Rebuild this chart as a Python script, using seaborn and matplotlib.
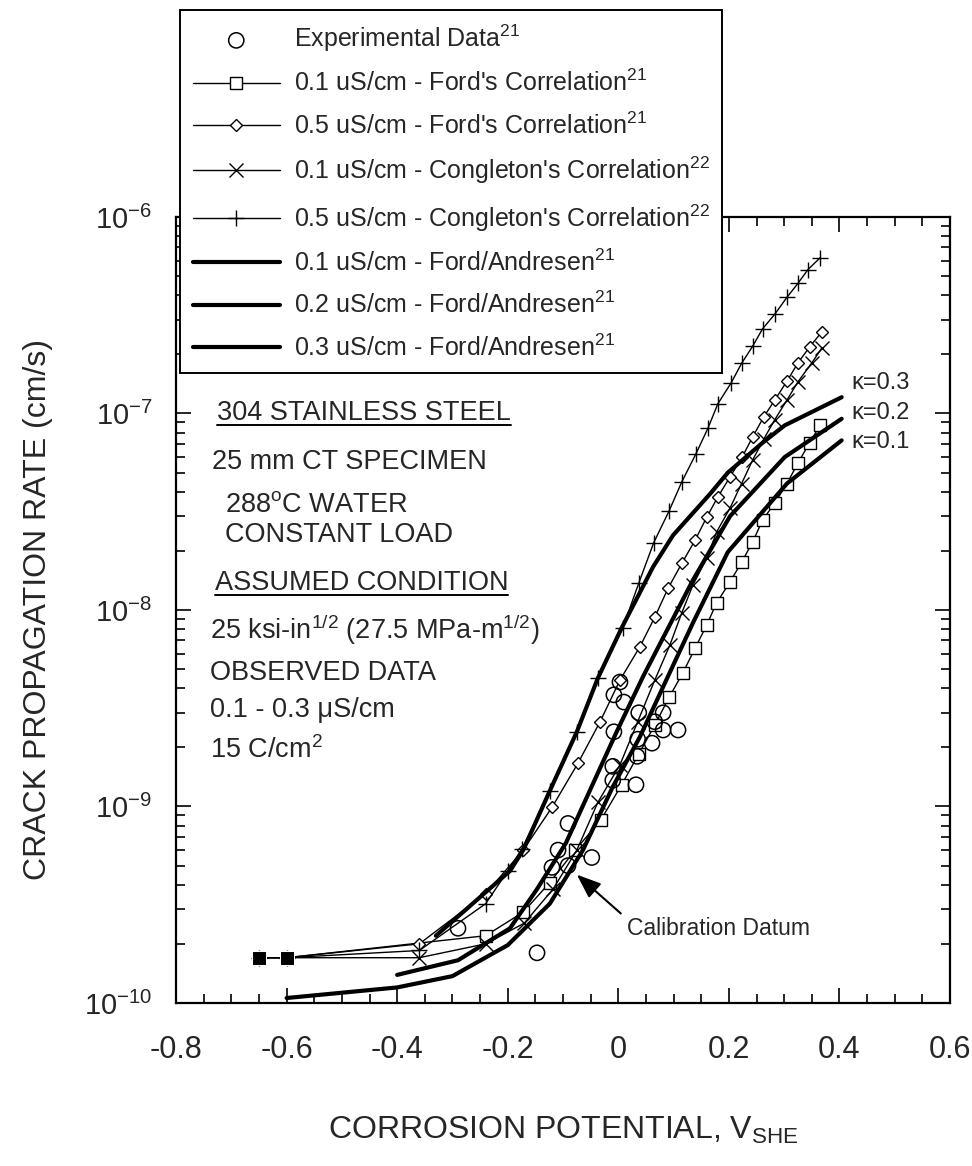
import numpy as np
import matplotlib
matplotlib.use("Agg")
import matplotlib.pyplot as plt
import seaborn as sns
from matplotlib import font_manager
from matplotlib.lines import Line2D
from matplotlib.ticker import MultipleLocator, LogLocator, NullFormatter, FuncFormatter
from matplotlib.transforms import IdentityTransform

# experimental data (corrosion potential V_SHE, crack growth rate cm/s)
exp_x = [-0.29, -0.147, -0.12, -0.109, -0.091, -0.091, -0.048, -0.010, -0.010, -0.008,
         -0.008, 0.003, 0.010, 0.032, 0.034, 0.035, 0.037, 0.061, 0.066, 0.081, 0.081, 0.108]
exp_y = [2.4e-10, 1.8e-10, 4.9e-10, 6.0e-10, 8.2e-10, 5.0e-10, 5.5e-10, 1.36e-9, 1.6e-9, 2.4e-9,
         3.7e-9, 4.3e-9, 3.4e-9, 1.29e-9, 1.8e-9, 2.2e-9, 3.0e-9, 2.1e-9, 2.7e-9, 3.0e-9, 2.45e-9, 2.45e-9]

# the four correlations share the same two starting points
start_x = [-0.65, -0.60]
start_y = [1.7e-10, 1.7e-10]

ford01_x = start_x + [-0.24, -0.172, -0.124, -0.078, -0.032, 0.006, 0.037, 0.066, 0.092, 0.117,
                      0.139, 0.160, 0.178, 0.202, 0.223, 0.243, 0.261, 0.283, 0.305, 0.325, 0.346, 0.365]
ford01_y = start_y + [2.2e-10, 2.9e-10, 4.1e-10, 6.0e-10, 8.5e-10, 1.29e-9, 1.85e-9, 2.6e-9, 3.6e-9, 4.8e-9,
                      6.4e-9, 8.4e-9, 1.09e-8, 1.39e-8, 1.75e-8, 2.22e-8, 2.87e-8, 3.5e-8, 4.4e-8, 5.6e-8, 7.1e-8, 8.7e-8]

ford05_x = start_x + [-0.36, -0.24, -0.172, -0.12, -0.073, -0.033, 0.003, 0.039, 0.066, 0.090, 0.115,
                      0.139, 0.160, 0.180, 0.202, 0.224, 0.243, 0.263, 0.283, 0.305, 0.325, 0.346, 0.368]
ford05_y = start_y + [2.0e-10, 3.6e-10, 6.0e-10, 9.9e-10, 1.66e-9, 2.7e-9, 4.4e-9, 6.5e-9, 9.2e-9, 1.29e-8, 1.73e-8,
                      2.27e-8, 2.97e-8, 3.76e-8, 4.75e-8, 6.0e-8, 7.6e-8, 9.6e-8, 1.17e-7, 1.46e-7, 1.81e-7, 2.18e-7, 2.6e-7]

cong01_x = start_x + [-0.36, -0.24, -0.17, -0.118, -0.075, -0.037, 0.003, 0.035, 0.066, 0.093, 0.115,
                      0.135, 0.160, 0.178, 0.202, 0.223, 0.243, 0.263, 0.283, 0.305, 0.325, 0.350, 0.368]
cong01_y = start_y + [1.7e-10, 2.0e-10, 2.55e-10, 3.8e-10, 6.0e-10, 1.05e-9, 1.63e-9, 2.7e-9, 4.4e-9, 6.6e-9, 9.7e-9,
                      1.34e-8, 1.84e-8, 2.5e-8, 3.3e-8, 4.4e-8, 5.8e-8, 7.4e-8, 9.3e-8, 1.17e-7, 1.45e-7, 1.81e-7, 2.15e-7]

cong05_x = start_x + [-0.36, -0.24, -0.20, -0.174, -0.124, -0.075, -0.037, 0.008, 0.037, 0.064, 0.092, 0.115,
                      0.140, 0.162, 0.180, 0.204, 0.223, 0.243, 0.261, 0.283, 0.305, 0.325, 0.343, 0.365]
cong05_y = start_y + [1.85e-10, 3.2e-10, 4.7e-10, 6.1e-10, 1.2e-9, 2.4e-9, 4.5e-9, 8.1e-9, 1.37e-8, 2.2e-8, 3.2e-8, 4.5e-8,
                      6.2e-8, 8.4e-8, 1.12e-7, 1.43e-7, 1.8e-7, 2.2e-7, 2.7e-7, 3.2e-7, 3.9e-7, 4.6e-7, 5.4e-7, 6.2e-7]

# Ford/Andresen model, kappa = 0.1, 0.2, 0.3 uS/cm
fa01_x = [-0.60, -0.40, -0.30, -0.20, -0.124, -0.064, -0.010, 0.039, 0.093, 0.135, 0.198, 0.305, 0.404]
fa01_y = [1.06e-10, 1.2e-10, 1.37e-10, 1.97e-10, 3.2e-10, 6.0e-10, 1.26e-9, 2.26e-9, 4.8e-9, 8.6e-9, 1.97e-8, 4.4e-8, 7.3e-8]

fa02_x = [-0.40, -0.29, -0.196, -0.147, -0.095, -0.003, 0.045, 0.135, 0.202, 0.301, 0.404]
fa02_y = [1.39e-10, 1.65e-10, 2.4e-10, 3.8e-10, 6.5e-10, 2.4e-9, 4.6e-9, 1.42e-8, 3.0e-8, 6.0e-8, 9.4e-8]

fa03_x = [-0.33, -0.281, -0.196, -0.172, -0.124, -0.075, -0.037, 0.006, 0.063, 0.099, 0.166, 0.198, 0.261, 0.301, 0.404]
fa03_y = [2.2e-10, 2.9e-10, 4.7e-10, 6.0e-10, 1.2e-9, 2.4e-9, 4.5e-9, 8.1e-9, 1.66e-8, 2.4e-8, 3.9e-8, 5.0e-8, 7.1e-8, 8.7e-8, 1.21e-7]

kappa_labels = ["\u03ba=0.3", "\u03ba=0.2", "\u03ba=0.1"]
kappa_y = [1.43e-7, 1.0e-7, 7.2e-8]

sns.set_style("ticks")
names = {f.name for f in font_manager.fontManager.ttflist}
narrow = "Liberation Sans Narrow" if "Liberation Sans Narrow" in names else "Liberation Sans"
plt.rcParams["font.family"] = ["Liberation Sans", "DejaVu Sans"]
plt.rcParams["mathtext.fontset"] = "custom"
plt.rcParams["mathtext.rm"] = "Liberation Sans"
plt.rcParams["mathtext.it"] = "Liberation Sans:italic"
plt.rcParams["mathtext.bf"] = "Liberation Sans:bold"

fig = plt.figure(figsize=(9.72, 11.66), dpi=100)
ax = fig.add_axes([0.1811, 0.1398, 0.7963, 0.6741])
ax.set_yscale("log")

thin = dict(color="black", lw=1.0, markerfacecolor="white", markeredgecolor="black",
            markeredgewidth=1.0, estimator=None, sort=False, ax=ax)

sns.scatterplot(x=exp_x, y=exp_y, marker="o", s=120, facecolor="none", edgecolor="black",
                linewidth=1.1, ax=ax, label="Experimental Data$^{21}$", zorder=5)
sns.lineplot(x=ford01_x, y=ford01_y, marker="s", markersize=9, label="0.1 uS/cm - Ford's Correlation$^{21}$", **thin)
sns.lineplot(x=ford05_x, y=ford05_y, marker="D", markersize=6.5, label="0.5 uS/cm - Ford's Correlation$^{21}$", **thin)
sns.lineplot(x=cong01_x, y=cong01_y, marker="x", markersize=10, label="0.1 uS/cm - Congleton's Correlation$^{22}$", **thin)
sns.lineplot(x=cong05_x, y=cong05_y, marker="+", markersize=11, label="0.5 uS/cm - Congleton's Correlation$^{22}$", **thin)
for fx, fy, lab in [(fa01_x, fa01_y, "0.1"), (fa02_x, fa02_y, "0.2"), (fa03_x, fa03_y, "0.3")]:
    sns.lineplot(x=fx, y=fy, color="black", lw=3.0, estimator=None, sort=False, ax=ax,
                 label=f"{lab} uS/cm - Ford/Andresen$^{{21}}$")
sns.scatterplot(x=start_x, y=start_y, marker="s", s=90, color="black", ax=ax, zorder=6)

ax.set_xlim(-0.8, 0.6)
ax.set_ylim(1e-10, 1e-6)
ax.xaxis.set_major_locator(MultipleLocator(0.2))
ax.xaxis.set_minor_locator(MultipleLocator(0.05))
ax.xaxis.set_major_formatter(FuncFormatter(lambda v, p: f"{round(v, 2) + 0.0:g}"))
ax.yaxis.set_major_locator(LogLocator(base=10))
ax.yaxis.set_minor_locator(LogLocator(base=10, subs=np.arange(2, 10)))
ax.yaxis.set_minor_formatter(NullFormatter())
ax.yaxis.set_major_formatter(FuncFormatter(lambda v, p: f"10$^{{{int(round(np.log10(v)))}}}$"))
ax.tick_params(which="both", direction="in", top=True, right=True, width=1.2, color="black")
ax.tick_params(which="major", length=11)
ax.tick_params(which="minor", length=6.5)
ax.tick_params(axis="x", labelsize=22, pad=23, labelfontfamily=narrow)
ax.tick_params(axis="y", labelsize=21, pad=17, labelfontfamily=narrow)
for sp in ax.spines.values():
    sp.set_linewidth(1.6)
    sp.set_color("black")

ax.set_xlabel("CORROSION POTENTIAL, V$_{\\rm SHE}$", fontsize=23, family=narrow, labelpad=36)
ax.set_ylabel("CRACK PROPAGATION RATE (cm/s)", fontsize=23, family=narrow, labelpad=22)

handles, labels = ax.get_legend_handles_labels()
leg = ax.legend(handles, labels, loc="upper left", bbox_to_anchor=(0.1852, 0.9914),
                bbox_transform=fig.transFigure, borderaxespad=0, fontsize=18,
                handlelength=3.5, handletextpad=0.55, borderpad=0.5, labelspacing=0.64,
                frameon=True, fancybox=False, framealpha=1, edgecolor="black")
leg.get_frame().set_linewidth(1.4)
leg.set_zorder(10)

notes = [
    ("304 STAINLESS STEEL", 0.053, 0.751, True),
    ("25 mm CT SPECIMEN", 0.047, 0.688, False),
    ("288$^{\\rm o}$C WATER", 0.063, 0.634, False),
    ("CONSTANT LOAD", 0.063, 0.595, False),
    ("ASSUMED CONDITION", 0.050, 0.534, True),
    ("25 ksi-in$^{1/2}$ (27.5 MPa-m$^{1/2}$)", 0.044, 0.475, False),
    ("OBSERVED DATA", 0.044, 0.420, False),
    ("0.1 - 0.3 \u03bcS/cm", 0.044, 0.373, False),
    ("15 C/cm$^2$", 0.044, 0.322, False),
]
under = []
for txt, xf, yf, ul in notes:
    t = ax.text(xf, yf, txt, transform=ax.transAxes, fontsize=19.5, ha="left", va="center")
    if ul:
        under.append(t)

for lab, ky in zip(kappa_labels, kappa_y):
    ax.text(0.422, ky, lab, fontsize=17, ha="left", va="center")

ax.annotate("Calibration Datum", xy=(-0.075, 4.5e-10), xytext=(0.016, 2.4e-10),
            fontsize=16.5, ha="left", va="center",
            arrowprops=dict(arrowstyle="-|>,head_length=0.9,head_width=0.35", color="black",
                            lw=1.5, relpos=(0.0, 0.9), shrinkA=3, shrinkB=0))

fig.canvas.draw()
r = fig.canvas.get_renderer()
for t in under:
    bb = t.get_window_extent(r)
    fig.add_artist(Line2D([bb.x0, bb.x1], [bb.y0 + 1, bb.y0 + 1], transform=IdentityTransform(),
                          color="black", lw=1.4))

fig.savefig("out.png", dpi=100)
